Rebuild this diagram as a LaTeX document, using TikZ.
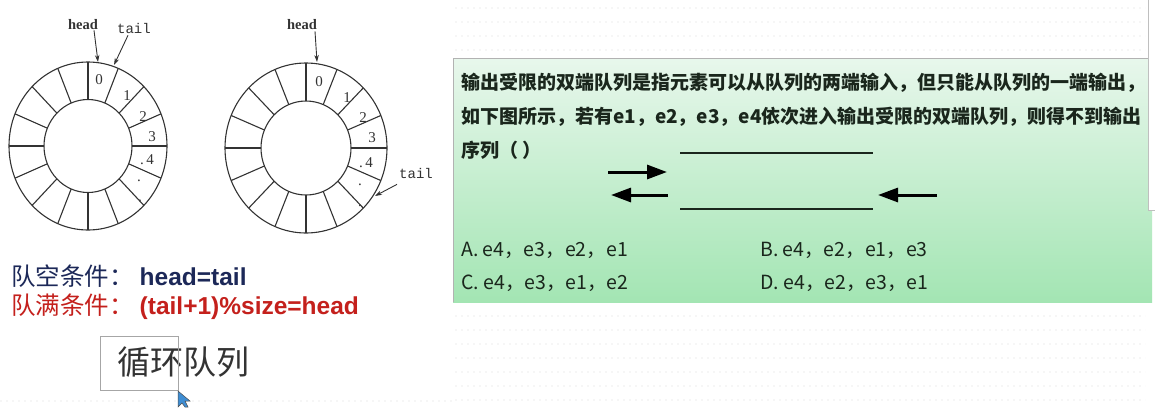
\documentclass[tikz,border=0pt]{standalone}
\usepackage{fontspec}
\setmainfont{Liberation Serif}
\newfontfamily\cjk{Noto Sans CJK SC}
\newfontfamily\arialf{Liberation Sans}
\newfontfamily\monof{Liberation Mono}
\usetikzlibrary{arrows.meta}
\definecolor{ringc}{HTML}{333333}
\definecolor{navyc}{HTML}{1C2858}
\definecolor{redc}{HTML}{C4201C}
\definecolor{gtop}{HTML}{E8F7EC}
\definecolor{gbot}{HTML}{A3E5B3}
\definecolor{qtxt}{HTML}{1A261C}
\tikzset{
  ringline/.style={draw=ringc, line width=1.1pt},
  ringnum/.style={font=\fontsize{15}{15}\selectfont, text=ringc, inner sep=0pt},
  headlbl/.style={font=\bfseries\fontsize{14.5}{14.5}\selectfont, text=ringc, inner sep=0pt},
  taillbl/.style={font=\monof\fontsize{14}{14}\selectfont, text=ringc, inner sep=0pt},
  ptr/.style={draw=ringc, line width=0.9pt, -{Stealth[length=7pt,width=4.5pt]}},
  qtext/.style={font=\cjk\bfseries\fontsize{19}{19}\selectfont, text=qtxt, inner sep=0pt, anchor=west},
  opt/.style={font=\cjk\fontsize{19.5}{19.5}\selectfont, text=qtxt, inner sep=0pt, anchor=west},
  bigarrow/.style={line width=3pt, -{Triangle[length=20pt,width=14pt]}},
  qline/.style={line width=1.3pt, draw=qtxt},
}
\begin{document}
\begin{tikzpicture}[x=1pt,y=-1pt]
\useasboundingbox (0,0) rectangle (1155,407);
\fill[white] (0,0) rectangle (1155,407);
% faint dotted background rows
\foreach \yy in {8,22,36,50,316,330,344,358,372,386,400}{
  \draw[gray!7, line width=2pt, dash pattern=on 2pt off 4pt] (455,\yy) -- (1145,\yy);
}
\draw[gray!7, line width=2pt, dash pattern=on 2pt off 4pt] (0,401) -- (455,401);

% ---------- ring 1 ----------
\begin{scope}[shift={(88,146)}]
  \draw[ringline] (0,0) ellipse [x radius=79pt, y radius=84pt];
  \draw[ringline] (0,0) ellipse [x radius=44pt, y radius=46.5pt];
  \foreach \a in {0,22.5,...,337.5}{
    \draw[ringline] (\a:44pt and 46.5pt) -- (\a:79pt and 84pt);
  }
\end{scope}
\node[ringnum] (r1n0) at (99,80) {0};
\node[ringnum] (r1n1) at (127,96) {1};
\node[ringnum] (r1n2) at (143,117) {2};
\node[ringnum] (r1n3) at (152,137) {3};
\node[ringnum] (r1n4) at (147,160) {.\,4};
\node[ringnum] (r1d1) at (139,181) {.};
\node[ringnum] (r1d2) at (140,201) {.};
\node[headlbl] (head1) at (83,25) {head};
\node[taillbl] (tail1) at (134,28) {tail};
\coordinate (h1e) at (98,62);
\coordinate (t1e) at (114,65);
\draw[ptr] (head1.south) ++(11,0) coordinate (h1s) -- (h1e);
\draw[ptr] (tail1.south) ++(-6,2) coordinate (t1s) -- (t1e);

% ---------- ring 2 ----------
\begin{scope}[shift={(306,148)}]
  \draw[ringline] (0,0) ellipse [x radius=81pt, y radius=85pt];
  \draw[ringline] (0,0) ellipse [x radius=45pt, y radius=47pt];
  \foreach \a in {0,22.5,...,337.5}{
    \draw[ringline] (\a:45pt and 47pt) -- (\a:81pt and 85pt);
  }
\end{scope}
\node[ringnum] (r2n0) at (319,82) {0};
\node[ringnum] (r2n1) at (347,98) {1};
\node[ringnum] (r2n2) at (363,118) {2};
\node[ringnum] (r2n3) at (372,138) {3};
\node[ringnum] (r2n4) at (366,163) {.\,4};
\node[ringnum] (r2d1) at (360,185) {.};
\node[ringnum] (r2d2) at (360,206) {.};
\node[headlbl] (head2) at (302,25) {head};
\node[taillbl] (tail2) at (416,173) {tail};
\coordinate (h2e) at (317,62);
\coordinate (t2e) at (375,196);
\draw[ptr] (head2.south) ++(13,1) coordinate (h2s) -- (h2e);
\draw[ptr] (tail2.south west) ++(-2,6) coordinate (t2s) -- (t2e);

% ---------- conditions ----------
\node[anchor=west, inner sep=0pt, text=navyc] (cond1) at (11,276)
  {{\cjk\fontsize{24.5}{25}\selectfont 队空条件：}\hspace{6pt}{\arialf\bfseries\fontsize{24.5}{25}\selectfont head=tail}};
\node[anchor=west, inner sep=0pt, text=redc] (cond2) at (11,307)
  {{\cjk\fontsize{24.5}{25}\selectfont 队满条件：}\hspace{6pt}{\arialf\bfseries\fontsize{24.5}{25}\selectfont (tail+1)\%size=head}};

% ---------- title ----------
\node[anchor=west, inner sep=0pt, text=black!80, font=\cjk\fontsize{33}{33}\selectfont] (title) at (117,362) {循环队列};
\node[draw=gray!70, line width=0.8pt, minimum width=78pt, minimum height=54pt, inner sep=0pt] (selbox) at (139,363) {};
% mouse cursor
\filldraw[fill=cyan!60!blue!80, draw=black!70, line width=0.5pt]
  (178,391) -- (178,407) -- (182,403) -- (185,407) -- (188,407) -- (185,401) -- (190,401) -- cycle;

% ---------- green question box ----------
\shade[top color=gtop, bottom color=gbot] (453,58) rectangle (1152,302);
\draw[gray!60, line width=0.8pt] (453,302) -- (453,58) -- (1152,58);
% UI strip at right
\fill[white] (1148,0) rectangle (1155,210);
\draw[gray!50] (1148,0) -- (1148,210) -- (1155,210);

\node[qtext] (q1) at (461,83) {输出受限的双端队列是指元素可以从队列的两端输入，但只能从队列的一端输出，};
\node[qtext] (q2) at (461,117) {如下图所示，若有e1，e2，e3，e4依次进入输出受限的双端队列，则得不到输出};
\node[qtext] (q3) at (461,150) {序列（ ）};

\coordinate (ul1) at (680,153); \coordinate (ul2) at (873,153);
\coordinate (ll1) at (680,209); \coordinate (ll2) at (873,209);
\draw[qline] (ul1) -- (ul2);
\draw[qline] (ll1) -- (ll2);
\coordinate (a1s) at (608,172); \coordinate (a1e) at (667,172);
\coordinate (a2s) at (668,195); \coordinate (a2e) at (611,195);
\coordinate (a3s) at (937,195); \coordinate (a3e) at (878,195);
\draw[bigarrow] (a1s) -- (a1e);
\draw[bigarrow] (a2s) -- (a2e);
\draw[bigarrow] (a3s) -- (a3e);

\node[opt] (optA) at (461,250) {A. e4，e3，e2，e1};
\node[opt] (optB) at (760,250) {B. e4，e2，e1，e3};
\node[opt] (optC) at (461,283) {C. e4，e3，e1，e2};
\node[opt] (optD) at (760,283) {D. e4，e2，e3，e1};
\end{tikzpicture}
\end{document}
